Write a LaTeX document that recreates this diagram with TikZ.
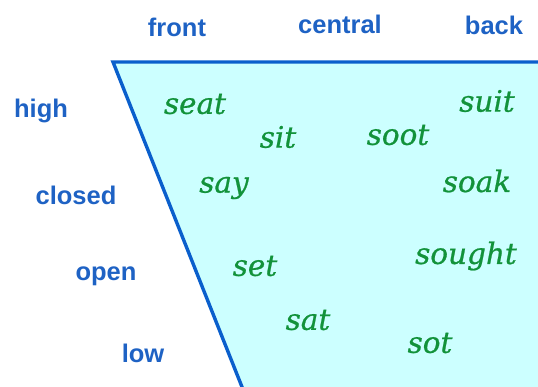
\documentclass[tikz,border=0pt]{standalone}
\usepackage{fontspec}
\newfontfamily\labelfont{Liberation Sans}
\newfontfamily\wordfont[ItalicFeatures={FakeBold=0.7}]{DejaVu Serif}
\definecolor{edgeblue}{HTML}{0A5FCC}
\definecolor{labelblue}{HTML}{1E62C4}
\definecolor{wordgreen}{HTML}{12923A}
\definecolor{areafill}{HTML}{CCFFFF}
\tikzset{
  axislabel/.style={font=\labelfont\bfseries\fontsize{25.5}{28}\selectfont, text=labelblue, inner sep=0pt},
  vowelword/.style={font=\wordfont\itshape\fontsize{29.5}{32}\selectfont, text=wordgreen, inner sep=0pt},
  chartedge/.style={draw=edgeblue, line width=3.4pt, line join=miter}
}
\begin{document}
\begin{tikzpicture}[x=1pt,y=-1pt]
\useasboundingbox (0,0) rectangle (538,387);
\clip (0,0) rectangle (538,387);
% vowel space
\coordinate (tl) at (113,62);
\coordinate (tr) at (545,62);
\coordinate (bl) at (244,392);
\fill[areafill] (tl) -- (tr) -- (545,392) -- (bl) -- cycle;
\draw[chartedge] (tr) -- (tl) -- (bl);
% axis labels
\node[axislabel] (front) at (177,27) {front};
\node[axislabel] (central) at (340,24) {central};
\node[axislabel] (back) at (494,25) {back};
\node[axislabel] (high) at (41,111) {high};
\node[axislabel] (closed) at (76,195) {closed};
\node[axislabel] (open) at (106,276) {open};
\node[axislabel] (low) at (143,353) {low};
% vowel words
\node[vowelword] (seat) at (195,104) {seat};
\node[vowelword] (sit) at (278,137) {sit};
\node[vowelword] (soot) at (398,135) {soot};
\node[vowelword] (suit) at (487,101) {suit};
\node[vowelword] (say) at (224,188) {say};
\node[vowelword] (soak) at (477,181) {soak};
\node[vowelword] (set) at (255,266) {set};
\node[vowelword] (sought) at (466,256) {sought};
\node[vowelword] (sat) at (308,320) {sat};
\node[vowelword] (sot) at (430,343) {sot};
\end{tikzpicture}
\end{document}
